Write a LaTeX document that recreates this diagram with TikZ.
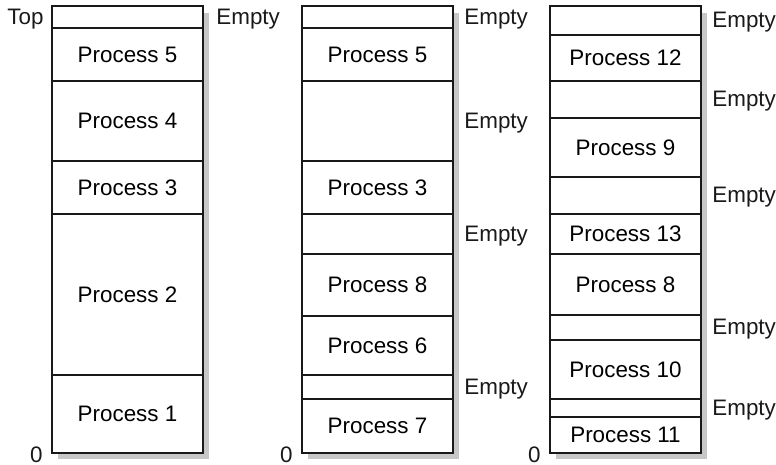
\documentclass[tikz,border=0pt]{standalone}
\usepackage{fontspec}
\setmainfont{Liberation Sans}
\usetikzlibrary{positioning, backgrounds}

\begin{document}
\begin{tikzpicture}[
    x=0.5pt, y=-0.5pt,
    node distance=0pt,
    slot/.style={draw=black!90, line width=1.2pt, rectangle, minimum width=75.5pt, inner sep=0pt, outer sep=0pt, fill=white, font=\fontsize{11.2}{13}\selectfont},
    tag/.style={inner sep=0pt, yshift=-1pt, text=black!90, font=\fontsize{11.2}{13}\selectfont},
    shade/.style={fill=black!22}
    ]
    \useasboundingbox (0,0) rectangle (776,465);

    % First memory map
    \node[slot, minimum height=11pt, anchor=north west] (m1e1) at (52,6) {};
    \node[slot, minimum height=26.5pt, below=of m1e1] (m1p5) {Process 5};
    \node[slot, minimum height=40pt, below=of m1p5] (m1p4) {Process 4};
    \node[slot, minimum height=26.5pt, below=of m1p4] (m1p3) {Process 3};
    \node[slot, minimum height=80.5pt, below=of m1p3] (m1p2) {Process 2};
    \node[slot, minimum height=39pt, below=of m1p2] (m1p1) {Process 1};

    % Second memory map
    \node[slot, minimum height=11pt, anchor=north west] (m2e1) at (302,6) {};
    \node[slot, minimum height=26.5pt, below=of m2e1] (m2p5) {Process 5};
    \node[slot, minimum height=40pt, below=of m2p5] (m2e2) {};
    \node[slot, minimum height=26.5pt, below=of m2e2] (m2p3) {Process 3};
    \node[slot, minimum height=20pt, below=of m2p3] (m2e3) {};
    \node[slot, minimum height=31pt, below=of m2e3] (m2p8) {Process 8};
    \node[slot, minimum height=29.5pt, below=of m2p8] (m2p6) {Process 6};
    \node[slot, minimum height=12pt, below=of m2p6] (m2e4) {};
    \node[slot, minimum height=27pt, below=of m2e4] (m2p7) {Process 7};

    % Third memory map
    \node[slot, minimum height=14.5pt, anchor=north west] (m3e1) at (550,6) {};
    \node[slot, minimum height=23pt, below=of m3e1] (m3p12) {Process 12};
    \node[slot, minimum height=18.5pt, below=of m3p12] (m3e2) {};
    \node[slot, minimum height=29.5pt, below=of m3e2] (m3p9) {Process 9};
    \node[slot, minimum height=18.5pt, below=of m3p9] (m3e3) {};
    \node[slot, minimum height=20pt, below=of m3e3] (m3p13) {Process 13};
    \node[slot, minimum height=30.5pt, below=of m3p13] (m3p8) {Process 8};
    \node[slot, minimum height=12.5pt, below=of m3p8] (m3e4) {};
    \node[slot, minimum height=29.5pt, below=of m3e4] (m3p10) {Process 10};
    \node[slot, minimum height=9pt, below=of m3p10] (m3e5) {};
    \node[slot, minimum height=18pt, below=of m3e5] (m3p11) {Process 11};

    % Shadows
    \begin{scope}[on background layer]
        \fill[shade] ([xshift=3pt,yshift=-3.5pt]m1e1.north west) rectangle ([xshift=3pt,yshift=-3pt]m1p1.south east);
        \fill[shade] ([xshift=3pt,yshift=-3.5pt]m2e1.north west) rectangle ([xshift=3pt,yshift=-3pt]m2p7.south east);
        \fill[shade] ([xshift=3pt,yshift=-3.5pt]m3e1.north west) rectangle ([xshift=3pt,yshift=-3pt]m3p11.south east);
    \end{scope}

    % Labels
    \node[tag, left=4pt of m1e1] (top) {Top};
    \node[tag, anchor=east] (m1z) at ([xshift=-4.5pt]m1p1.south west) {0};
    \node[tag, anchor=east] (m2z) at ([xshift=-4.5pt]m2p7.south west) {0};
    \node[tag, anchor=east] (m3z) at ([xshift=-4.5pt]m3p11.south west) {0};

    \node[tag, right=6.5pt of m1e1] (m1t1) {Empty};
    \node[tag, right=5.5pt of m2e1] (m2t1) {Empty};
    \node[tag, right=5.5pt of m2e2] (m2t2) {Empty};
    \node[tag, right=5.5pt of m2e3] (m2t3) {Empty};
    \node[tag, right=5.5pt of m2e4] (m2t4) {Empty};
    \node[tag, right=5.5pt of m3e1] (m3t1) {Empty};
    \node[tag, right=5.5pt of m3e2] (m3t2) {Empty};
    \node[tag, right=5.5pt of m3e3] (m3t3) {Empty};
    \node[tag, right=5.5pt of m3e4] (m3t4) {Empty};
    \node[tag, right=5.5pt of m3e5] (m3t5) {Empty};
\end{tikzpicture}
\end{document}
